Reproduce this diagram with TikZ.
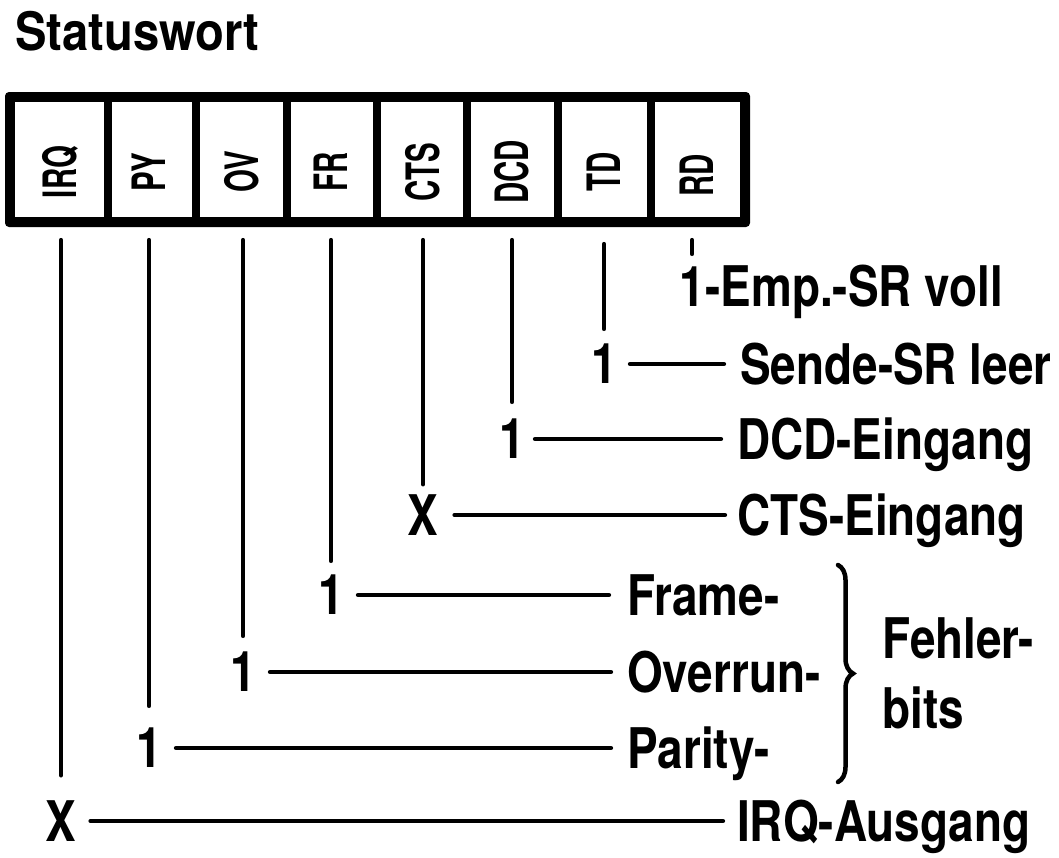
\documentclass[tikz,border=0pt]{standalone}
\usepackage{fontspec}
\setmainfont{TeX Gyre Heros}[FakeStretch=0.82]
\newfontfamily\titlefont{TeX Gyre Heros}[FakeStretch=0.89]
\newfontfamily\cellfont{TeX Gyre Heros}[FakeStretch=0.64]
\usetikzlibrary{decorations.pathreplacing}
\begin{document}
\begin{tikzpicture}[x=1pt,y=-1pt,
  lbl/.style={inner sep=0pt,anchor=base west,font=\bfseries\fontsize{56}{60}\selectfont},
  dig/.style={inner sep=0pt,font=\bfseries\fontsize{56}{60}\selectfont},
  cellbox/.style={fill=white,draw=none,inner sep=0pt,minimum height=115pt},
  celltxt/.style={inner sep=0pt,rotate=90,font=\cellfont\bfseries\fontsize{46}{50}\selectfont},
  conn/.style={line width=4.2pt,line cap=round},
  vline/.style={line width=4.2pt,line cap=round}]
\useasboundingbox (0,0) rectangle (1059,857);
% title
\node[inner sep=0pt,anchor=base west,font=\titlefont\bfseries\fontsize{53}{58}\selectfont] (title) at (15,50) {Statuswort};
% register frame
\node[fill=black,rounded corners=4pt,inner sep=0pt,minimum width=745pt,minimum height=135pt] (frame) at (377.5,159.5) {};
\node[cellbox,minimum width=89pt] (cell1) at (59.5,159.5) {};
\node[cellbox,minimum width=80pt] (cell2) at (152,159.5) {};
\node[cellbox,minimum width=83pt] (cell3) at (241.5,159.5) {};
\node[cellbox,minimum width=82pt] (cell4) at (332,159.5) {};
\node[cellbox,minimum width=82pt] (cell5) at (422,159.5) {};
\node[cellbox,minimum width=83pt] (cell6) at (512.5,159.5) {};
\node[cellbox,minimum width=85pt] (cell7) at (604.5,159.5) {};
\node[cellbox,minimum width=85pt] (cell8) at (697.5,159.5) {};
\node[celltxt] (t1) at (60,172) {IRQ};
\node[celltxt] (t2) at (149,172) {PY};
\node[celltxt] (t3) at (242,172) {OV};
\node[celltxt] (t4) at (331,172) {FR};
\node[celltxt] (t5) at (423,172) {CTS};
\node[celltxt] (t6) at (512,172) {DCD};
\node[celltxt] (t7) at (604,172) {TD};
\node[celltxt] (t8) at (697,175) {RD};
\coordinate (top) at (0,240);
% digits
\node[dig] (d1) at (61,821) {X};
\node[dig] (d2) at (149,748) {1};
\node[dig] (d3) at (243,672) {1};
\node[dig] (d4) at (331,595) {1};
\node[dig] (d5) at (423,515) {X};
\node[dig] (d6) at (512,439) {1};
\node[dig] (d7) at (604,364) {1};
\node[dig] (d8) at (692,287) {1};
% labels
\node[lbl] (l1) at (737,841) {IRQ-Ausgang};
\node[lbl] (l2) at (627,768) {Parity-};
\node[lbl] (l3) at (627,692) {Overrun-};
\node[lbl] (l4) at (627,615) {Frame-};
\node[lbl] (l5) at (737,535) {CTS-Eingang};
\node[lbl] (l6) at (737,459) {DCD-Eingang};
\node[lbl] (l7) at (740,384) {Sende-SR leer};
\node[lbl,anchor=base west] (l8) at (d8.base east) {-Emp.-SR voll};
\node[lbl] (fb1) at (882,658) {Fehler-};
\node[lbl] (fb2) at (882,728) {bits};
% vertical lines
\draw[vline,shorten <=25pt] (d1.north) -- (d1.north |- top);
\draw[vline,shorten <=22pt] (d2.north) -- (d2.north |- top);
\draw[vline,shorten <=16pt] (d3.north) -- (d3.north |- top);
\draw[vline,shorten <=14pt] (d4.north) -- (d4.north |- top);
\draw[vline,shorten <=10pt] (d5.north) -- (d5.north |- top);
\draw[vline,shorten <=17pt] (d6.north) -- (d6.north |- top);
\draw[vline,shorten <=15pt,shorten >=4pt] (d7.north) -- (d7.north |- top);
\draw[vline,shorten <=13pt] (d8.north) -- (d8.north |- top);
% horizontal connectors
\draw[conn,shorten <=14pt,shorten >=14pt] (d1.east) -- (l1.west |- d1.east);
\draw[conn,shorten <=14pt,shorten >=16pt] (d2.east) -- (l2.west |- d2.east);
\draw[conn,shorten <=14pt,shorten >=16pt] (d3.east) -- (l3.west |- d3.east);
\draw[conn,shorten <=14pt,shorten >=18pt] (d4.east) -- (l4.west |- d4.east);
\draw[conn,shorten <=16pt,shorten >=12pt] (d5.east) -- (l5.west |- d5.east);
\draw[conn,shorten <=10pt,shorten >=16pt] (d6.east) -- (l6.west |- d6.east);
\draw[conn,shorten <=13pt,shorten >=16pt] (d7.east) -- (l7.west |- d7.east);
% brace
\coordinate (bt) at (838,565);
\coordinate (bb) at (838,782);
\draw[line width=4.5pt,line cap=round,decorate,decoration={brace,amplitude=15pt}] (bt) -- (bb);
\end{tikzpicture}
\end{document}
